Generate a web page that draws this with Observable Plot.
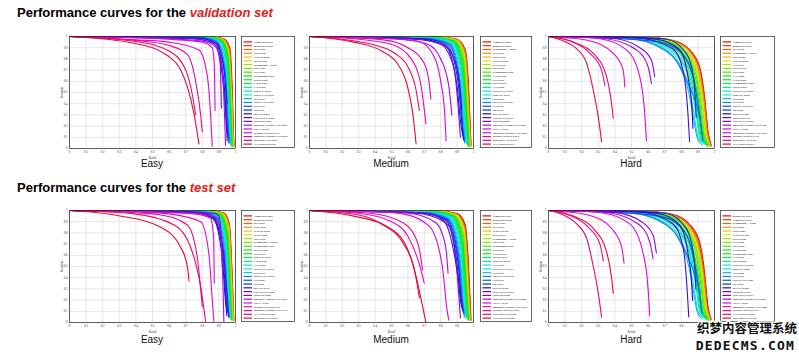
<!DOCTYPE html>
<html><head><meta charset="utf-8">
<script src="https://cdn.jsdelivr.net/npm/d3@7"></script>
<script src="https://cdn.jsdelivr.net/npm/@observablehq/plot@0.6"></script>
<style>
html,body{margin:0;padding:0;background:#fff;}
#root{position:relative;width:799px;height:352px;overflow:hidden;}
#root > svg{position:absolute;}
</style></head>
<body><div id="root"></div>
<script>
// ---------- tick values ----------
const tickVals = [0, 0.1, 0.2, 0.3, 0.4, 0.5, 0.6, 0.7, 0.8, 0.9, 1];
const tickLabels = ["0", "0.1", "0.2", "0.3", "0.4", "0.5", "0.6", "0.7", "0.8", "0.9", "1"];

// ---------- validation set: Easy ----------
const valEasyNames = ["AInnoFace-0.970","RetinaFace-0.969","DFS-0.969","ISRN-0.967","VIM-FD-0.967","DSFD-0.966","PyramidBox++-0.965","SRN-0.964","CSP-0.961","PyramidBox-0.961","FDNet-0.959","FANet-0.956","FAN-0.952","Zhu et al.-0.949","Face R-FCN-0.947","SFD-0.937","Face R-CNN-0.937","SSH-0.931","HR-0.925","MSCNN-0.916","CMS-RCNN-0.899","ScaleFace-0.868","Multitask Cascade CNN-0.848","LDCF+-0.790","Faceness-WIDER-0.713","Multiscale Cascade CNN-0.691","Two-stage CNN-0.681","ACF-WIDER-0.659"];
const valEasyCurves = [
 [[0,1],[0.86,0.995],[0.93,0.98],[0.965,0.9],[0.98,0.55],[0.99,0.02]],
 [[0,1],[0.86,0.995],[0.93,0.978],[0.964,0.89],[0.979,0.5],[0.99,0.03]],
 [[0,1],[0.85,0.995],[0.93,0.975],[0.963,0.88],[0.978,0.5],[0.988,0.02]],
 [[0,1],[0.85,0.995],[0.925,0.975],[0.962,0.87],[0.977,0.45],[0.987,0.03]],
 [[0,1],[0.85,0.994],[0.925,0.973],[0.96,0.86],[0.976,0.45],[0.986,0.02]],
 [[0,1],[0.84,0.994],[0.92,0.972],[0.958,0.86],[0.975,0.4],[0.985,0.03]],
 [[0,1],[0.84,0.994],[0.92,0.97],[0.957,0.85],[0.974,0.4],[0.984,0.02]],
 [[0,1],[0.84,0.993],[0.92,0.97],[0.956,0.84],[0.972,0.4],[0.982,0.03]],
 [[0,1],[0.83,0.993],[0.915,0.968],[0.955,0.83],[0.971,0.38],[0.98,0.02]],
 [[0,1],[0.83,0.993],[0.915,0.966],[0.953,0.82],[0.97,0.35],[0.979,0.03]],
 [[0,1],[0.83,0.992],[0.91,0.965],[0.952,0.8],[0.968,0.35],[0.978,0.02]],
 [[0,1],[0.82,0.992],[0.91,0.962],[0.95,0.78],[0.966,0.3],[0.975,0.04]],
 [[0,1],[0.82,0.991],[0.905,0.96],[0.948,0.77],[0.964,0.3],[0.973,0.03]],
 [[0,1],[0.82,0.99],[0.9,0.958],[0.945,0.75],[0.962,0.3],[0.97,0.05]],
 [[0,1],[0.81,0.99],[0.9,0.955],[0.943,0.72],[0.96,0.25],[0.968,0.04]],
 [[0,1],[0.8,0.99],[0.89,0.955],[0.94,0.7],[0.957,0.25],[0.965,0.05]],
 [[0,1],[0.8,0.988],[0.89,0.95],[0.938,0.68],[0.955,0.22],[0.962,0.08]],
 [[0,1],[0.79,0.988],[0.885,0.948],[0.935,0.65],[0.952,0.2],[0.96,0.05]],
 [[0,1],[0.78,0.985],[0.88,0.94],[0.93,0.72],[0.95,0.4]],
 [[0,1],[0.78,0.985],[0.88,0.94],[0.93,0.6],[0.948,0.2],[0.955,0.1]],
 [[0,1],[0.75,0.98],[0.87,0.935],[0.925,0.6],[0.945,0.2],[0.95,0.07]],
 [[0,1],[0.7,0.985],[0.86,0.95],[0.9,0.92],[0.91,0.7],[0.915,0.36]],
 [[0,1],[0.6,0.98],[0.8,0.96],[0.9,0.88],[0.925,0.6],[0.935,0.25],[0.94,0.03]],
 [[0,1],[0.6,0.975],[0.8,0.95],[0.86,0.9],[0.872,0.75],[0.877,0.34]],
 [[0,1],[0.4,0.97],[0.6,0.95],[0.78,0.88],[0.83,0.65],[0.85,0.3],[0.86,0.02]],
 [[0,1],[0.4,0.965],[0.6,0.92],[0.71,0.84],[0.76,0.6],[0.79,0.3],[0.8,0.15]],
 [[0,1],[0.4,0.955],[0.6,0.87],[0.7,0.7],[0.74,0.48],[0.76,0.3]],
 [[0,1],[0.39,0.94],[0.59,0.83],[0.67,0.7],[0.71,0.55],[0.75,0.31],[0.78,0.04]]
];

// ---------- validation set: Medium ----------
const valMediumNames = ["AInnoFace-0.961","RetinaFace-0.961","PyramidBox++-0.959","DFS-0.959","ISRN-0.958","VIM-FD-0.957","DSFD-0.957","SRN-0.952","PyramidBox-0.950","FANet-0.947","CSP-0.944","FDNet-0.945","FAN-0.940","Face R-FCN-0.935","Zhu et al.-0.935","SFD-0.925","Face R-CNN-0.921","SSH-0.921","HR-0.910","MSCNN-0.903","CMS-RCNN-0.874","ScaleFace-0.867","Multitask Cascade CNN-0.825","LDCF+-0.769","Multiscale Cascade CNN-0.664","Faceness-WIDER-0.634","Two-stage CNN-0.618","ACF-WIDER-0.541"];
const valMediumCurves = [
 [[0,1],[0.8,0.993],[0.9,0.975],[0.95,0.88],[0.97,0.55],[0.985,0.03]],
 [[0,1],[0.8,0.993],[0.9,0.973],[0.95,0.87],[0.97,0.5],[0.984,0.02]],
 [[0,1],[0.8,0.992],[0.9,0.97],[0.948,0.86],[0.968,0.5],[0.982,0.03]],
 [[0,1],[0.8,0.992],[0.9,0.97],[0.947,0.85],[0.967,0.45],[0.981,0.02]],
 [[0,1],[0.79,0.992],[0.895,0.968],[0.945,0.84],[0.965,0.45],[0.98,0.03]],
 [[0,1],[0.79,0.99],[0.895,0.965],[0.944,0.83],[0.964,0.42],[0.978,0.02]],
 [[0,1],[0.78,0.99],[0.89,0.965],[0.942,0.82],[0.962,0.4],[0.977,0.03]],
 [[0,1],[0.78,0.99],[0.89,0.962],[0.94,0.8],[0.96,0.4],[0.975,0.02]],
 [[0,1],[0.77,0.99],[0.885,0.96],[0.938,0.78],[0.958,0.38],[0.973,0.03]],
 [[0,1],[0.77,0.988],[0.88,0.958],[0.935,0.76],[0.955,0.35],[0.97,0.02]],
 [[0,1],[0.76,0.988],[0.88,0.955],[0.933,0.75],[0.953,0.35],[0.968,0.04]],
 [[0,1],[0.76,0.987],[0.875,0.952],[0.93,0.73],[0.95,0.3],[0.965,0.03]],
 [[0,1],[0.75,0.986],[0.87,0.95],[0.928,0.7],[0.948,0.3],[0.962,0.05]],
 [[0,1],[0.75,0.985],[0.87,0.945],[0.925,0.68],[0.945,0.28],[0.958,0.04]],
 [[0,1],[0.74,0.985],[0.865,0.94],[0.922,0.66],[0.942,0.25],[0.955,0.05]],
 [[0,1],[0.72,0.983],[0.86,0.935],[0.918,0.62],[0.938,0.25],[0.95,0.08]],
 [[0,1],[0.72,0.982],[0.855,0.93],[0.915,0.6],[0.935,0.22],[0.947,0.05]],
 [[0,1],[0.7,0.98],[0.85,0.928],[0.912,0.58],[0.932,0.2],[0.944,0.06]],
 [[0,1],[0.7,0.98],[0.84,0.92],[0.905,0.6],[0.925,0.3],[0.935,0.12]],
 [[0,1],[0.68,0.978],[0.83,0.915],[0.9,0.55],[0.92,0.25],[0.94,0.08]],
 [[0,1],[0.65,0.975],[0.82,0.92],[0.9,0.72],[0.92,0.5],[0.928,0.35]],
 [[0,1],[0.65,0.975],[0.8,0.93],[0.88,0.72],[0.905,0.4],[0.92,0.1]],
 [[0,1],[0.55,0.975],[0.72,0.93],[0.8,0.8],[0.85,0.55],[0.868,0.3]],
 [[0,1],[0.5,0.98],[0.66,0.96],[0.74,0.87],[0.8,0.6],[0.825,0.3],[0.833,0.07]],
 [[0,1],[0.3,0.975],[0.5,0.93],[0.62,0.8],[0.68,0.56],[0.71,0.22]],
 [[0,1],[0.45,0.97],[0.6,0.9],[0.7,0.76],[0.73,0.58],[0.74,0.44]],
 [[0,1],[0.38,0.93],[0.52,0.85],[0.6,0.73],[0.65,0.52],[0.67,0.34]],
 [[0,1],[0.27,0.95],[0.44,0.87],[0.54,0.75],[0.6,0.54],[0.63,0.31],[0.65,0.04]]
];

// ---------- validation set: Hard ----------
const valHardNames = ["AInnoFace-0.918","RetinaFace-0.918","DFS-0.912","PyramidBox++-0.912","ISRN-0.909","VIM-FD-0.907","CSP-0.907","DSFD-0.904","SRN-0.901","FAN-0.900","FANet-0.895","PyramidBox-0.889","FDNet-0.878","Face R-FCN-0.876","Zhu et al.-0.865","SFD-0.859","SSH-0.845","Face R-CNN-0.831","HR-0.806","MSCNN-0.802","ScaleFace-0.772","CMS-RCNN-0.624","Multitask Cascade CNN-0.598","LDCF+-0.522","Multiscale Cascade CNN-0.424","Faceness-WIDER-0.345","Two-stage CNN-0.323","ACF-WIDER-0.273"];
const valHardCurves = [
 [[0,1],[0.6,0.99],[0.75,0.965],[0.85,0.88],[0.91,0.73],[0.94,0.46],[0.96,0.16],[0.98,0.03]],
 [[0,1],[0.6,0.99],[0.75,0.963],[0.85,0.875],[0.91,0.72],[0.94,0.45],[0.96,0.15],[0.978,0.02]],
 [[0,1],[0.6,0.99],[0.75,0.96],[0.85,0.87],[0.905,0.7],[0.935,0.45],[0.955,0.15],[0.975,0.03]],
 [[0,1],[0.6,0.988],[0.75,0.958],[0.85,0.865],[0.905,0.7],[0.935,0.44],[0.955,0.15],[0.974,0.02]],
 [[0,1],[0.58,0.988],[0.74,0.956],[0.84,0.86],[0.9,0.68],[0.93,0.42],[0.95,0.14],[0.972,0.04]],
 [[0,1],[0.58,0.987],[0.74,0.955],[0.84,0.855],[0.9,0.67],[0.93,0.4],[0.95,0.13],[0.97,0.03]],
 [[0,1],[0.58,0.987],[0.73,0.953],[0.835,0.85],[0.895,0.66],[0.925,0.4],[0.945,0.13],[0.968,0.02]],
 [[0,1],[0.57,0.986],[0.73,0.95],[0.83,0.845],[0.89,0.65],[0.92,0.38],[0.94,0.12],[0.965,0.04]],
 [[0,1],[0.56,0.985],[0.72,0.948],[0.825,0.84],[0.885,0.64],[0.915,0.38],[0.935,0.12],[0.962,0.03]],
 [[0,1],[0.55,0.985],[0.72,0.945],[0.82,0.83],[0.88,0.62],[0.91,0.36],[0.93,0.12],[0.96,0.02]],
 [[0,1],[0.55,0.984],[0.71,0.94],[0.815,0.82],[0.875,0.6],[0.905,0.35],[0.925,0.11],[0.955,0.04]],
 [[0,1],[0.54,0.983],[0.7,0.935],[0.81,0.81],[0.87,0.58],[0.9,0.34],[0.92,0.1],[0.95,0.03]],
 [[0,1],[0.53,0.982],[0.69,0.93],[0.8,0.8],[0.865,0.56],[0.895,0.32],[0.915,0.1],[0.945,0.05]],
 [[0,1],[0.52,0.98],[0.68,0.925],[0.795,0.79],[0.86,0.55],[0.89,0.3],[0.91,0.1],[0.94,0.04]],
 [[0,1],[0.5,0.98],[0.67,0.92],[0.785,0.77],[0.85,0.52],[0.88,0.28],[0.9,0.1],[0.93,0.05]],
 [[0,1],[0.5,0.978],[0.66,0.915],[0.78,0.76],[0.845,0.5],[0.875,0.26],[0.895,0.1],[0.925,0.03]],
 [[0,1],[0.5,0.975],[0.66,0.91],[0.78,0.76],[0.85,0.55],[0.9,0.35],[0.915,0.25]],
 [[0,1],[0.5,0.975],[0.7,0.94],[0.82,0.82],[0.88,0.58],[0.91,0.3],[0.93,0.07]],
 [[0,1],[0.55,0.99],[0.71,0.975],[0.83,0.85],[0.875,0.62],[0.89,0.28]],
 [[0,1],[0.5,0.99],[0.65,0.975],[0.79,0.88],[0.84,0.64],[0.865,0.35],[0.87,0.18]],
 [[0,1],[0.4,0.995],[0.55,0.985],[0.75,0.89],[0.81,0.7],[0.84,0.31],[0.85,0.06]],
 [[0,1],[0.25,0.995],[0.39,0.985],[0.55,0.9],[0.62,0.79],[0.64,0.64]],
 [[0,1],[0.2,0.995],[0.35,0.98],[0.53,0.88],[0.6,0.73],[0.62,0.58]],
 [[0,1],[0.15,0.995],[0.31,0.98],[0.47,0.88],[0.55,0.64],[0.58,0.31],[0.59,0.07]],
 [[0,1],[0.1,0.99],[0.25,0.96],[0.39,0.85],[0.45,0.7],[0.46,0.55]],
 [[0,1],[0.13,0.96],[0.25,0.85],[0.32,0.7],[0.34,0.56]],
 [[0,1],[0.15,0.95],[0.27,0.85],[0.35,0.64],[0.38,0.4],[0.39,0.27]],
 [[0,1],[0.09,0.96],[0.17,0.89],[0.23,0.76],[0.27,0.52],[0.3,0.28],[0.32,0.06]]
];

// ---------- test set: Easy ----------
const testEasyNames = ["AInnoFace-0.965","RetinaFace-0.963","DFS-0.963","ISRN-0.963","VIM-FD-0.962","DSFD-0.960","SRN-0.959","PyramidBox++-0.956","PyramidBox-0.956","FDNet-0.950","CSP-0.949","Zhu et al.-0.949","FANet-0.947","FAN-0.946","Face R-FCN-0.943","SFD-0.935","Face R-CNN-0.932","SSH-0.927","HR-0.923","MSCNN-0.917","CMS-RCNN-0.902","ScaleFace-0.867","Multitask Cascade CNN-0.851","LDCF+-0.797","Faceness-WIDER-0.716","Multiscale Cascade CNN-0.711","ACF-WIDER-0.695","Two-stage CNN-0.657"];
const testEasyCurves = [
 [[0,1],[0.86,0.995],[0.93,0.978],[0.963,0.88],[0.978,0.5],[0.99,0.02]],
 [[0,1],[0.86,0.995],[0.93,0.976],[0.962,0.87],[0.977,0.48],[0.989,0.03]],
 [[0,1],[0.85,0.994],[0.925,0.975],[0.961,0.86],[0.976,0.45],[0.988,0.02]],
 [[0,1],[0.85,0.994],[0.925,0.973],[0.96,0.86],[0.975,0.45],[0.987,0.03]],
 [[0,1],[0.85,0.994],[0.92,0.972],[0.958,0.85],[0.974,0.42],[0.985,0.02]],
 [[0,1],[0.84,0.993],[0.92,0.97],[0.957,0.84],[0.972,0.4],[0.984,0.03]],
 [[0,1],[0.84,0.993],[0.915,0.968],[0.955,0.83],[0.971,0.4],[0.982,0.02]],
 [[0,1],[0.83,0.993],[0.915,0.966],[0.953,0.82],[0.97,0.38],[0.98,0.03]],
 [[0,1],[0.83,0.992],[0.91,0.965],[0.952,0.8],[0.968,0.36],[0.978,0.02]],
 [[0,1],[0.82,0.992],[0.91,0.962],[0.95,0.78],[0.966,0.33],[0.976,0.04]],
 [[0,1],[0.82,0.991],[0.905,0.96],[0.948,0.76],[0.964,0.3],[0.974,0.03]],
 [[0,1],[0.82,0.99],[0.9,0.958],[0.946,0.75],[0.962,0.3],[0.972,0.05]],
 [[0,1],[0.81,0.99],[0.9,0.955],[0.944,0.73],[0.96,0.28],[0.97,0.04]],
 [[0,1],[0.81,0.99],[0.895,0.953],[0.942,0.72],[0.958,0.26],[0.968,0.03]],
 [[0,1],[0.8,0.989],[0.89,0.95],[0.94,0.7],[0.956,0.25],[0.965,0.05]],
 [[0,1],[0.8,0.988],[0.885,0.948],[0.936,0.68],[0.953,0.22],[0.962,0.06]],
 [[0,1],[0.79,0.987],[0.88,0.945],[0.933,0.65],[0.95,0.2],[0.958,0.05]],
 [[0,1],[0.78,0.986],[0.875,0.94],[0.93,0.62],[0.947,0.2],[0.955,0.08]],
 [[0,1],[0.77,0.985],[0.87,0.935],[0.925,0.6],[0.944,0.18],[0.952,0.1]],
 [[0,1],[0.76,0.983],[0.865,0.93],[0.92,0.58],[0.94,0.18],[0.948,0.06]],
 [[0,1],[0.75,0.98],[0.86,0.93],[0.92,0.7],[0.95,0.25],[0.96,0.05]],
 [[0,1],[0.7,0.985],[0.87,0.975],[0.9,0.95],[0.915,0.75],[0.92,0.5]],
 [[0,1],[0.6,0.985],[0.79,0.97],[0.89,0.93],[0.915,0.7],[0.925,0.3],[0.93,0.01]],
 [[0,1],[0.6,0.98],[0.75,0.97],[0.85,0.93],[0.868,0.76],[0.872,0.35]],
 [[0,1],[0.45,0.985],[0.6,0.97],[0.79,0.9],[0.84,0.61],[0.86,0.2],[0.87,0.01]],
 [[0,1],[0.4,0.98],[0.55,0.96],[0.71,0.87],[0.77,0.58],[0.79,0.3],[0.8,0.14]],
 [[0,1],[0.39,0.97],[0.63,0.87],[0.73,0.67],[0.79,0.32],[0.82,0.01]],
 [[0,1],[0.29,0.955],[0.55,0.85],[0.67,0.67],[0.71,0.5],[0.72,0.37]]
];

// ---------- test set: Medium ----------
const testMediumNames = ["AInnoFace-0.957","RetinaFace-0.956","ISRN-0.954","DFS-0.954","VIM-FD-0.953","DSFD-0.953","PyramidBox++-0.952","SRN-0.948","PyramidBox-0.946","CSP-0.944","FANet-0.940","FDNet-0.939","Zhu et al.-0.938","FAN-0.936","Face R-FCN-0.931","SFD-0.921","Face R-CNN-0.916","SSH-0.915","HR-0.910","MSCNN-0.903","CMS-RCNN-0.874","ScaleFace-0.866","Multitask Cascade CNN-0.820","LDCF+-0.772","Multiscale Cascade CNN-0.636","Faceness-WIDER-0.604","Two-stage CNN-0.589","ACF-WIDER-0.588"];
const testMediumCurves = [
 [[0,1],[0.8,0.992],[0.9,0.972],[0.95,0.87],[0.97,0.5],[0.985,0.02]],
 [[0,1],[0.8,0.992],[0.9,0.97],[0.948,0.86],[0.968,0.5],[0.983,0.03]],
 [[0,1],[0.79,0.991],[0.895,0.968],[0.946,0.85],[0.966,0.46],[0.981,0.02]],
 [[0,1],[0.79,0.991],[0.895,0.966],[0.945,0.84],[0.965,0.45],[0.98,0.03]],
 [[0,1],[0.78,0.99],[0.89,0.965],[0.943,0.83],[0.963,0.42],[0.978,0.02]],
 [[0,1],[0.78,0.99],[0.89,0.963],[0.942,0.82],[0.962,0.4],[0.976,0.03]],
 [[0,1],[0.78,0.989],[0.885,0.96],[0.94,0.8],[0.96,0.4],[0.975,0.02]],
 [[0,1],[0.77,0.989],[0.88,0.958],[0.938,0.78],[0.958,0.37],[0.973,0.03]],
 [[0,1],[0.77,0.988],[0.88,0.955],[0.935,0.76],[0.955,0.35],[0.97,0.02]],
 [[0,1],[0.76,0.988],[0.875,0.953],[0.933,0.74],[0.953,0.33],[0.968,0.04]],
 [[0,1],[0.76,0.987],[0.87,0.95],[0.93,0.72],[0.95,0.3],[0.965,0.03]],
 [[0,1],[0.75,0.986],[0.87,0.948],[0.928,0.7],[0.948,0.3],[0.962,0.05]],
 [[0,1],[0.75,0.985],[0.865,0.945],[0.925,0.68],[0.945,0.27],[0.958,0.04]],
 [[0,1],[0.74,0.985],[0.86,0.94],[0.922,0.66],[0.942,0.25],[0.955,0.06]],
 [[0,1],[0.73,0.984],[0.855,0.935],[0.918,0.63],[0.938,0.24],[0.95,0.05]],
 [[0,1],[0.72,0.982],[0.85,0.93],[0.915,0.6],[0.935,0.22],[0.947,0.07]],
 [[0,1],[0.71,0.98],[0.845,0.926],[0.912,0.58],[0.932,0.2],[0.944,0.05]],
 [[0,1],[0.7,0.98],[0.84,0.922],[0.908,0.56],[0.928,0.2],[0.94,0.08]],
 [[0,1],[0.69,0.978],[0.835,0.918],[0.905,0.55],[0.925,0.22],[0.936,0.1]],
 [[0,1],[0.68,0.976],[0.83,0.912],[0.9,0.52],[0.92,0.2],[0.932,0.12]],
 [[0,1],[0.65,0.975],[0.82,0.9],[0.89,0.55],[0.92,0.25],[0.93,0.15]],
 [[0,1],[0.6,0.985],[0.73,0.97],[0.85,0.86],[0.9,0.44],[0.92,0.04]],
 [[0,1],[0.5,0.985],[0.61,0.975],[0.77,0.89],[0.83,0.68],[0.845,0.44]],
 [[0,1],[0.45,0.985],[0.57,0.97],[0.73,0.86],[0.81,0.5],[0.84,0.1],[0.85,0.02]],
 [[0,1],[0.3,0.975],[0.5,0.9],[0.6,0.77],[0.67,0.52],[0.7,0.35]],
 [[0,1],[0.37,0.975],[0.57,0.89],[0.66,0.71],[0.69,0.47]],
 [[0,1],[0.3,0.96],[0.45,0.87],[0.57,0.71],[0.64,0.47],[0.67,0.22]],
 [[0,1],[0.27,0.95],[0.47,0.86],[0.59,0.68],[0.65,0.41],[0.69,0.14],[0.71,0.0]]
];

// ---------- test set: Hard ----------
const testHardNames = ["RetinaFace-0.914","AInnoFace-0.912","PyramidBox++-0.909","DFS-0.907","ISRN-0.903","VIM-FD-0.902","DSFD-0.900","CSP-0.899","SRN-0.896","FANet-0.887","PyramidBox-0.887","FAN-0.885","FDNet-0.878","Face R-FCN-0.876","Zhu et al.-0.865","SFD-0.858","SSH-0.844","Face R-CNN-0.827","HR-0.819","MSCNN-0.809","ScaleFace-0.764","CMS-RCNN-0.643","Multitask Cascade CNN-0.607","LDCF+-0.564","Multiscale Cascade CNN-0.400","Faceness-WIDER-0.315","ACF-WIDER-0.290","Two-stage CNN-0.304"];
const testHardCurves = [
 [[0,1],[0.6,0.99],[0.75,0.963],[0.85,0.875],[0.91,0.72],[0.94,0.45],[0.96,0.15],[0.98,0.03]],
 [[0,1],[0.6,0.99],[0.75,0.962],[0.85,0.87],[0.905,0.71],[0.937,0.45],[0.957,0.15],[0.978,0.02]],
 [[0,1],[0.6,0.989],[0.75,0.96],[0.848,0.865],[0.905,0.7],[0.935,0.44],[0.955,0.15],[0.976,0.03]],
 [[0,1],[0.59,0.988],[0.74,0.958],[0.845,0.86],[0.9,0.69],[0.932,0.43],[0.952,0.14],[0.974,0.02]],
 [[0,1],[0.58,0.988],[0.74,0.956],[0.84,0.855],[0.9,0.68],[0.93,0.42],[0.95,0.14],[0.972,0.04]],
 [[0,1],[0.58,0.987],[0.735,0.954],[0.838,0.85],[0.895,0.67],[0.927,0.41],[0.947,0.13],[0.97,0.03]],
 [[0,1],[0.57,0.986],[0.73,0.952],[0.834,0.845],[0.892,0.66],[0.924,0.4],[0.944,0.13],[0.967,0.02]],
 [[0,1],[0.57,0.986],[0.73,0.95],[0.83,0.84],[0.89,0.65],[0.92,0.38],[0.94,0.12],[0.965,0.04]],
 [[0,1],[0.56,0.985],[0.72,0.947],[0.825,0.835],[0.885,0.63],[0.915,0.37],[0.935,0.12],[0.962,0.03]],
 [[0,1],[0.55,0.984],[0.71,0.943],[0.818,0.825],[0.878,0.61],[0.908,0.36],[0.928,0.11],[0.957,0.02]],
 [[0,1],[0.55,0.984],[0.71,0.94],[0.814,0.82],[0.875,0.6],[0.905,0.35],[0.925,0.11],[0.954,0.04]],
 [[0,1],[0.54,0.983],[0.7,0.937],[0.81,0.81],[0.87,0.58],[0.9,0.34],[0.92,0.1],[0.95,0.03]],
 [[0,1],[0.53,0.982],[0.69,0.932],[0.8,0.8],[0.865,0.56],[0.895,0.32],[0.915,0.1],[0.945,0.05]],
 [[0,1],[0.52,0.98],[0.68,0.926],[0.795,0.79],[0.86,0.55],[0.89,0.3],[0.91,0.1],[0.94,0.04]],
 [[0,1],[0.5,0.98],[0.67,0.92],[0.785,0.77],[0.85,0.52],[0.88,0.28],[0.9,0.1],[0.93,0.05]],
 [[0,1],[0.5,0.978],[0.66,0.915],[0.78,0.76],[0.845,0.5],[0.875,0.26],[0.895,0.1],[0.925,0.03]],
 [[0,1],[0.5,0.976],[0.66,0.912],[0.78,0.76],[0.85,0.55],[0.895,0.36],[0.912,0.26]],
 [[0,1],[0.5,0.975],[0.7,0.938],[0.82,0.81],[0.875,0.57],[0.905,0.3],[0.925,0.08]],
 [[0,1],[0.55,0.99],[0.71,0.973],[0.83,0.84],[0.875,0.6],[0.888,0.3]],
 [[0,1],[0.5,0.99],[0.66,0.973],[0.79,0.87],[0.84,0.62],[0.862,0.36],[0.868,0.2]],
 [[0,1],[0.4,0.995],[0.56,0.984],[0.75,0.88],[0.81,0.68],[0.835,0.3],[0.845,0.05]],
 [[0,1],[0.25,0.995],[0.4,0.983],[0.56,0.9],[0.63,0.78],[0.65,0.62]],
 [[0,1],[0.2,0.995],[0.36,0.98],[0.54,0.88],[0.61,0.72],[0.63,0.57]],
 [[0,1],[0.15,0.995],[0.32,0.98],[0.49,0.88],[0.57,0.62],[0.6,0.3],[0.61,0.06]],
 [[0,1],[0.1,0.99],[0.25,0.955],[0.38,0.84],[0.44,0.68],[0.455,0.53]],
 [[0,1],[0.12,0.96],[0.24,0.85],[0.31,0.7],[0.33,0.55]],
 [[0,1],[0.09,0.96],[0.17,0.88],[0.23,0.75],[0.27,0.5],[0.3,0.26],[0.32,0.05]],
 [[0,1],[0.15,0.95],[0.27,0.84],[0.35,0.63],[0.38,0.4],[0.39,0.26]]
];

// ---------- text ----------
const titlePrefix = "Performance curves for the ";
const titleVal = "validation set";
const titleTest = "test set";
const difficulty = ["Easy", "Medium", "Hard"];
const watermark1 = "织梦内容管理系统";
const watermark2 = "DEDECMS.COM";

// ---------- layout ----------
const root = document.getElementById("root");
const PH = 112;
const ML = 16, MR = 3, MT = 3, MB = 14;
const colsX = [69, 309, 548];
const colsW = [166, 164, 166];
const legX = [241, 480, 720];
const legW = [54, 52, 55];
const rowsY = [36, 210];
const labelBaseline = [167, 343];

const panels = [
  [valEasyNames, valEasyCurves], [valMediumNames, valMediumCurves], [valHardNames, valHardCurves],
  [testEasyNames, testEasyCurves], [testMediumNames, testMediumCurves], [testHardNames, testHardCurves]
];

const colorOf = (i, n) => d3.hsl(360 * i / n, 0.92, 0.47).formatHex();
const fmt = d => tickLabels[tickVals.indexOf(d)] ?? String(d);

panels.forEach(([names, curves], k) => {
  const col = k % 3, row = Math.floor(k / 3);
  const colors = names.map((_, i) => colorOf(i, names.length));
  const data = curves.flatMap((pts, i) => pts.map(([r, p]) => ({name: names[i], r, p})));
  const PW = colsW[col];
  const svg = Plot.plot({
    width: PW + ML + MR, height: PH + MT + MB,
    marginLeft: ML, marginRight: MR, marginTop: MT, marginBottom: MB,
    style: {fontFamily: "'Liberation Serif', serif", fontSize: "3px", background: "transparent", overflow: "visible", color: "#222"},
    x: {domain: [0, 1], ticks: tickVals, tickFormat: fmt, tickSize: 0, tickPadding: 2,
        label: "Recall", labelAnchor: "center", labelOffset: 10, labelArrow: false},
    y: {domain: [0, 1], ticks: tickVals, tickFormat: fmt, tickSize: 0, tickPadding: 2,
        label: "Precision", labelAnchor: "center", labelOffset: 9, labelArrow: false},
    color: {domain: names, range: colors},
    marks: [
      Plot.gridX(tickVals, {stroke: "#cfcfcf", strokeOpacity: 1, strokeWidth: 0.5}),
      Plot.gridY(tickVals, {stroke: "#cfcfcf", strokeOpacity: 1, strokeWidth: 0.5}),
      Plot.line(data, {x: "r", y: "p", z: "name", stroke: "name", strokeWidth: 1.1, curve: "monotone-x"}),
      Plot.frame({stroke: "#222", strokeWidth: 0.7})
    ]
  });
  svg.style.position = "absolute";
  svg.style.left = (colsX[col] - ML) + "px";
  svg.style.top = (rowsY[row] - MT) + "px";
  root.appendChild(svg);

  // legend box
  const lw = legW[col], lh = PH;
  const leg = d3.create("svg").attr("width", lw).attr("height", lh)
    .style("position", "absolute").style("left", legX[col] + "px").style("top", rowsY[row] + "px");
  leg.append("rect").attr("x", 0.5).attr("y", 0.5).attr("width", lw - 1).attr("height", lh - 1)
    .attr("fill", "#fff").attr("stroke", "#444").attr("stroke-width", 0.8);
  const step = (lh - 6) / names.length;
  const g = leg.selectAll("g").data(names).join("g")
    .attr("transform", (d, i) => `translate(0,${4 + step * (i + 0.5)})`);
  g.append("line").attr("x1", 2.5).attr("x2", 11).attr("stroke", (d, i) => colors[i]).attr("stroke-width", 1.2);
  g.append("text").attr("x", 12.5).attr("dy", "0.35em").text(d => d)
    .attr("font-family", "'Liberation Serif', serif").attr("font-size", 2.6).attr("font-weight", "bold").attr("fill", "#333");
  root.appendChild(leg.node());
});

// titles, panel labels, watermark
const over = d3.create("svg").attr("width", 799).attr("height", 352)
  .style("position", "absolute").style("left", "0px").style("top", "0px").style("pointer-events", "none");
[[17, titleVal], [192, titleTest]].forEach(([y, red]) => {
  const t = over.append("text").attr("x", 17).attr("y", y)
    .attr("font-family", "'Liberation Sans', Arial, sans-serif").attr("font-size", 13).attr("font-weight", "bold");
  t.append("tspan").attr("fill", "#000").text(titlePrefix);
  t.append("tspan").attr("fill", "#e3201b").attr("font-style", "italic").text(red);
});
labelBaseline.forEach(by => {
  difficulty.forEach((lab, c) => {
    over.append("text").attr("x", colsX[c] + colsW[c] / 2).attr("y", by).attr("text-anchor", "middle")
      .attr("font-family", "'Liberation Sans', Arial, sans-serif").attr("font-size", 10).attr("fill", "#111").text(lab);
  });
});
over.append("text").attr("x", 797).attr("y", 333).attr("text-anchor", "end")
  .attr("font-family", "'Noto Sans CJK SC', sans-serif").attr("font-size", 12.5).attr("font-weight", "bold")
  .attr("fill", "#111").attr("stroke", "#fff").attr("stroke-width", 2.5).attr("paint-order", "stroke").text(watermark1);
over.append("text").attr("x", 795).attr("y", 350).attr("text-anchor", "end")
  .attr("font-family", "'DejaVu Sans Mono', monospace").attr("font-size", 13).attr("font-weight", "bold").attr("letter-spacing", 1.2)
  .attr("fill", "#111").attr("stroke", "#fff").attr("stroke-width", 2.5).attr("paint-order", "stroke").text(watermark2);
root.appendChild(over.node());
</script>
</body></html>
